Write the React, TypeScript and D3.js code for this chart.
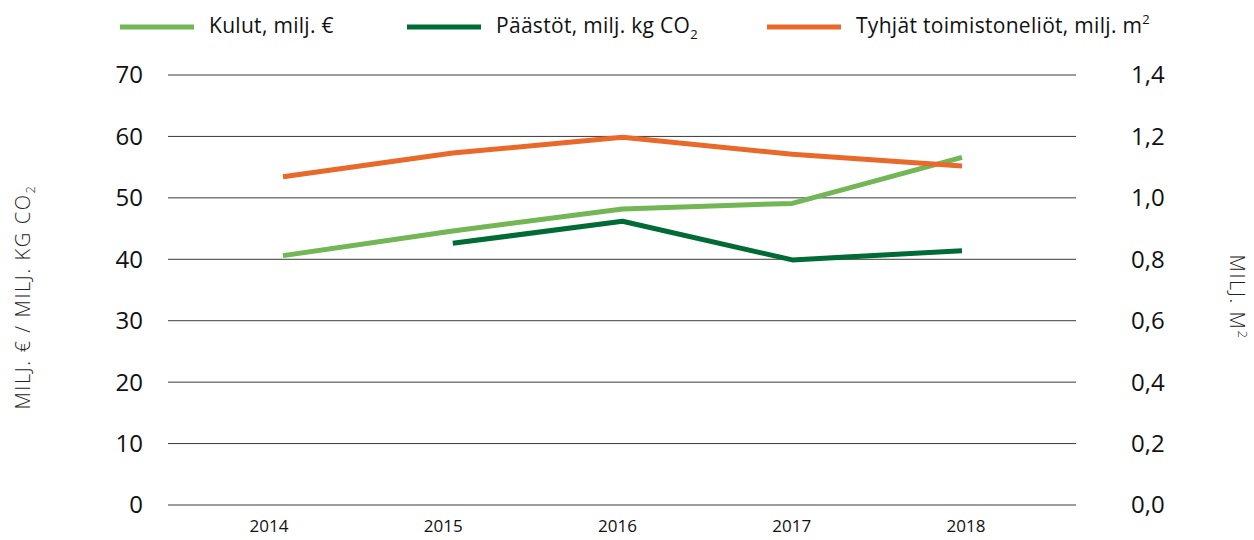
import React from "react";
import * as d3 from "d3";

const years = ["2014", "2015", "2016", "2017", "2018"];
const kulut: (number | null)[] = [40.6, 44.6, 48.2, 49.1, 56.6];
const paastot: (number | null)[] = [null, 42.6, 46.2, 39.9, 41.4];
const tyhjat: (number | null)[] = [1.069, 1.146, 1.197, 1.142, 1.104];
const leftTicks = [0, 10, 20, 30, 40, 50, 60, 70];
const rightTicks = [0, 0.2, 0.4, 0.6, 0.8, 1.0, 1.2, 1.4];

const W = 1254;
const H = 540;
const FONT = "'Open Sans', 'Noto Sans', sans-serif";

export default function App() {
  const x = d3.scalePoint<string>().domain(years).range([283, 962]);
  const xLabel = d3.scalePoint<string>().domain(years).range([269, 966]);
  const yL = d3.scaleLinear().domain([0, 70]).range([505, 75]);
  const yR = d3.scaleLinear().domain([0, 1.4]).range([505, 75]);
  const plotX0 = 168;
  const plotX1 = 1076;

  const mkLine = (scale: d3.ScaleLinear<number, number>) =>
    d3
      .line<number | null>()
      .defined((d) => d != null)
      .x((_, i) => x(years[i]) as number)
      .y((d) => scale(d as number));

  const series = [
    { name: "Kulut, milj. €", data: kulut, scale: yL, color: "#72b655" },
    { name: "Päästöt, milj. kg CO", sub: "2", data: paastot, scale: yL, color: "#006b35" },
    { name: "Tyhjät toimistoneliöt, milj. m", sup: "2", data: tyhjat, scale: yR, color: "#e8692a" },
  ];
  const legendX = [120, 407, 767];

  const fmtR = (v: number) => v.toFixed(1).replace(".", ",");

  return (
    <svg width={W} height={H} style={{ position: "absolute", left: 0, top: 0, background: "#fff" }} fontFamily={FONT}>
      {leftTicks.map((t) => (
        <line key={"g" + t} x1={plotX0} x2={plotX1} y1={yL(t)} y2={yL(t)} stroke="#3a3a3a" strokeWidth={1} />
      ))}
      {leftTicks.map((t) => (
        <text key={"l" + t} x={143} y={yL(t)} dy="0.35em" textAnchor="end" fontSize={24} fill="#111">
          {t}
        </text>
      ))}
      {rightTicks.map((t) => (
        <text key={"r" + t} x={1131} y={yR(t)} dy="0.35em" textAnchor="start" fontSize={24} fill="#111">
          {fmtR(t)}
        </text>
      ))}
      {years.map((yv) => (
        <text key={"x" + yv} x={xLabel(yv)} y={532} textAnchor="middle" fontSize={17} fill="#111">
          {yv}
        </text>
      ))}
      <text
        transform={`translate(30,297) rotate(-90)`}
        textAnchor="middle"
        fontSize={20}
        fill="#222"
        fontWeight={300}
        letterSpacing={1.6}
      >
        MILJ. € / MILJ. KG CO<tspan fontSize={13} dy={5}>2</tspan>
      </text>
      <text
        transform={`translate(1230,297) rotate(90)`}
        textAnchor="middle"
        fontSize={20}
        fill="#222"
        fontWeight={300}
        letterSpacing={1.6}
      >
        MILJ. M<tspan fontSize={13} dy={-8}>2</tspan>
      </text>
      {series.map((s) => (
        <path key={s.name} d={mkLine(s.scale)(s.data) || ""} fill="none" stroke={s.color} strokeWidth={5} strokeLinejoin="round" />
      ))}
      {series.map((s, i) => (
        <g key={"lg" + i}>
          <line x1={legendX[i]} x2={legendX[i] + 74} y1={27} y2={27} stroke={s.color} strokeWidth={5} />
          <text x={legendX[i] + 89} y={26} dy="0.35em" fontSize={21} fill="#111" letterSpacing={0.3}>
            {s.name}
            {s.sub ? <tspan fontSize={13} dy={6}>{s.sub}</tspan> : null}
            {s.sup ? <tspan fontSize={13} dy={-9}>{s.sup}</tspan> : null}
          </text>
        </g>
      ))}
    </svg>
  );
}
